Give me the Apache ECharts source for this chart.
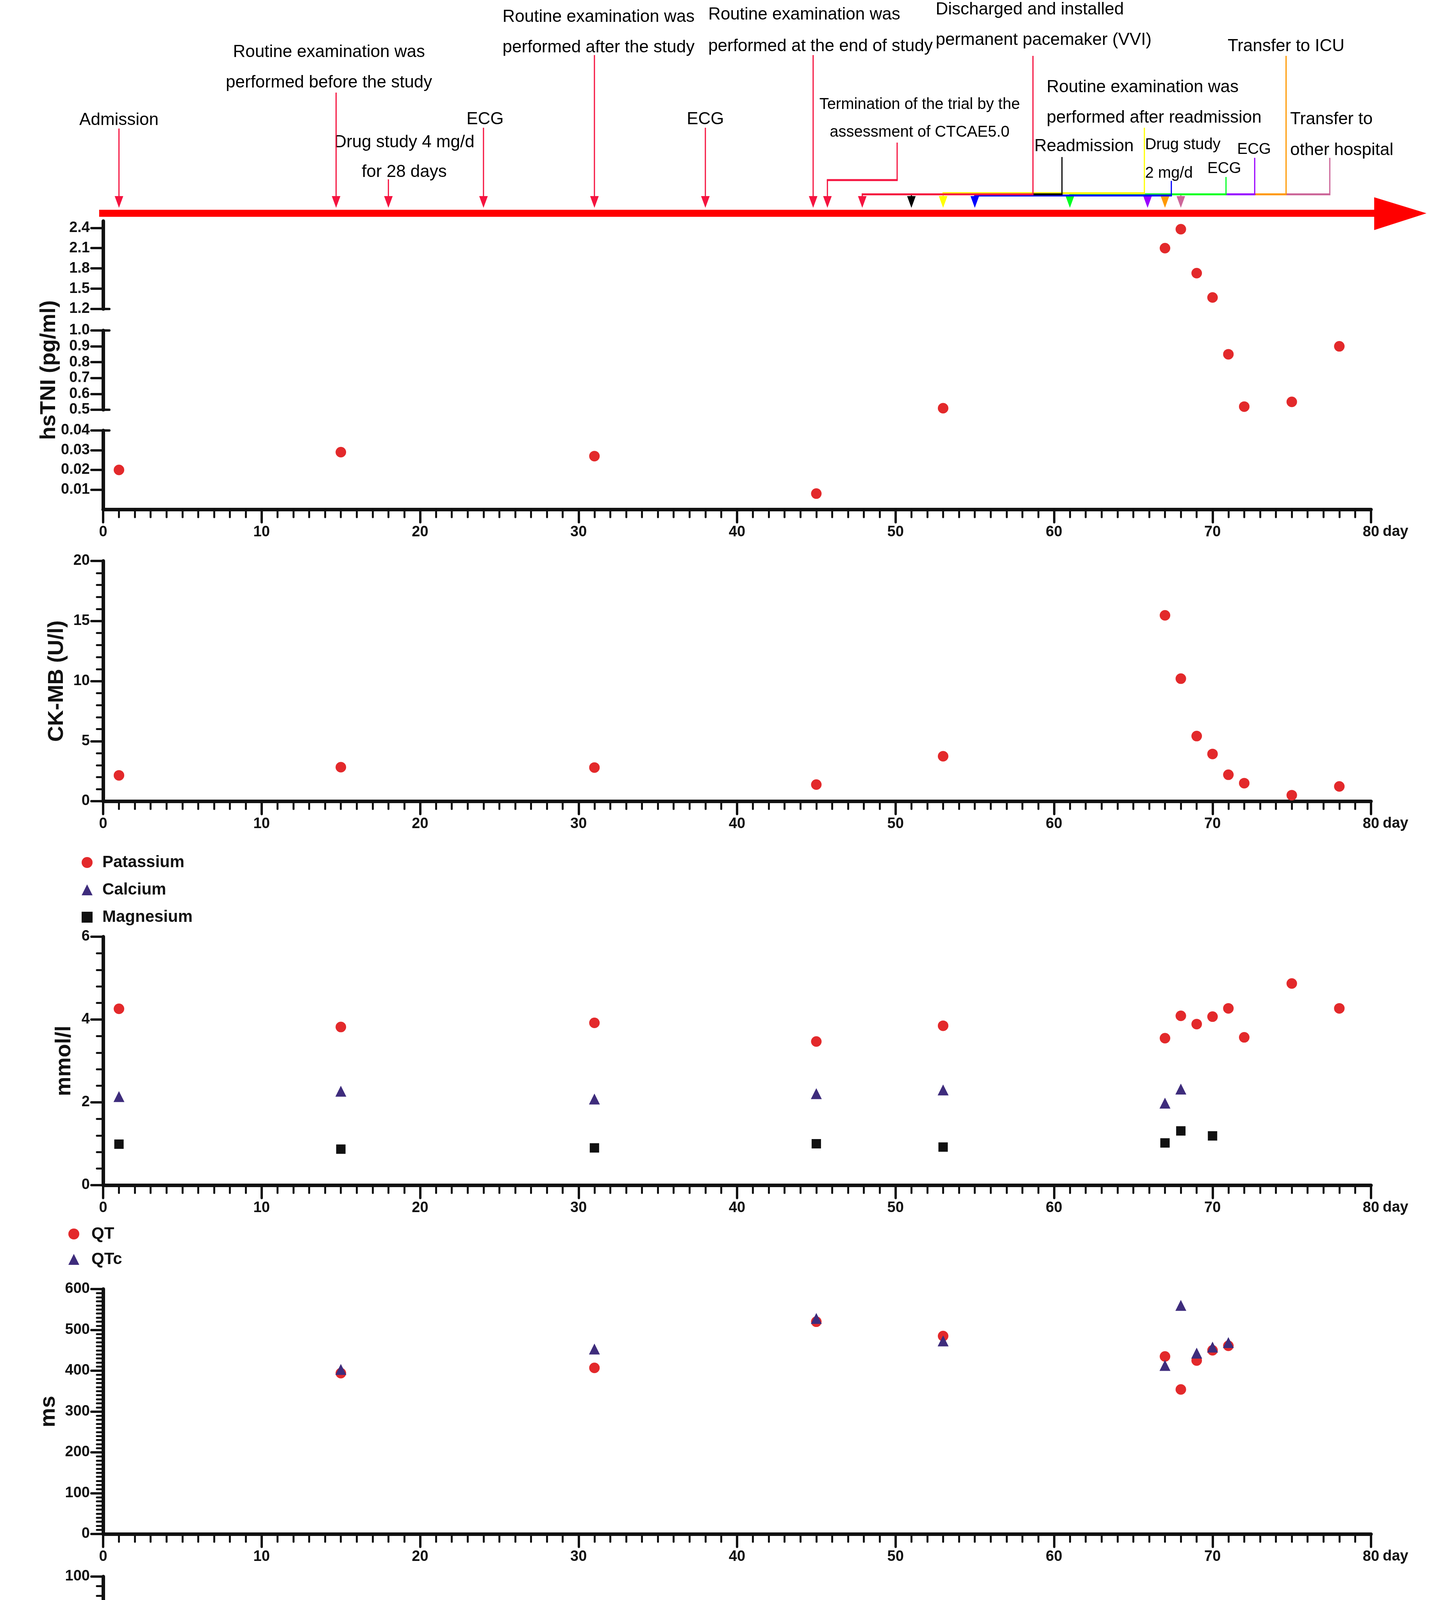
<!DOCTYPE html>
<html>
<head>
<meta charset="utf-8">
<script src="https://cdn.jsdelivr.net/npm/echarts@6/dist/echarts.min.js"></script>
<style>
  html, body { margin: 0; padding: 0; background: #fff; }
  #chart { width: 3661px; height: 4730px; }
</style>
</head>
<body>
<div id="chart"></div>
<script>
// ---- values ----
const tniDays = [1, 15, 31, 45, 53, 67, 68, 69, 70, 71, 72, 75, 78];
const tniValues = [0.02, 0.029, 0.027, 0.008, 0.51, 2.1, 2.38, 1.73, 1.37, 0.85, 0.52, 0.55, 0.9];
const tniSegments = [[1.2, 2.5], [0.5, 1.0], [0, 0.04]];
const tniTicks = [[1.2, 1.5, 1.8, 2.1, 2.4], [0.5, 0.6, 0.7, 0.8, 0.9, 1.0], [0.01, 0.02, 0.03, 0.04]];
const tniBreakCaps = [[1.2], [0.5, 1.0], [0.04]];

const ckmbDays = [1, 15, 31, 45, 53, 67, 68, 69, 70, 71, 72, 75, 78];
const ckmbValues = [2.15, 2.83, 2.8, 1.38, 3.74, 15.47, 10.2, 5.42, 3.93, 2.2, 1.5, 0.5, 1.23];

const potassiumDays = [1, 15, 31, 45, 53, 67, 68, 69, 70, 71, 72, 75, 78];
const potassiumValues = [4.26, 3.82, 3.92, 3.47, 3.85, 3.55, 4.09, 3.89, 4.07, 4.27, 3.57, 4.87, 4.27];
const calciumDays = [1, 15, 31, 45, 53, 67, 68];
const calciumValues = [2.14, 2.27, 2.08, 2.21, 2.3, 1.98, 2.32];
const magnesiumDays = [1, 15, 31, 45, 53, 67, 68, 70];
const magnesiumValues = [0.99, 0.87, 0.9, 1.0, 0.92, 1.02, 1.31, 1.19];

const qtDays = [15, 31, 45, 53, 67, 68, 69, 70, 71];
const qtValues = [394, 407, 520, 485, 435, 354, 425, 450, 461];
const qtcValues = [403, 453, 528, 473, 413, 560, 443, 458, 469];

const lvefDays = [1, 53, 68, 70];
const lvefValues = [65, 61, 40, 50];

// timeline events: label text, day the arrow points at, colour
const eventTexts = [
  ['Admission'],
  ['Routine examination was', 'performed before the study'],
  ['Drug study 4 mg/d', 'for 28 days'],
  ['ECG'],
  ['Routine examination was', 'performed after the study'],
  ['ECG'],
  ['Routine examination was', 'performed at the end of study'],
  ['Termination of the trial by the', 'assessment of CTCAE5.0'],
  ['Discharged and installed', 'permanent pacemaker (VVI)'],
  ['Readmission'],
  ['Routine examination was', 'performed after readmission'],
  ['Drug study', '2 mg/d'],
  ['ECG'],
  ['ECG'],
  ['Transfer to ICU'],
  ['Transfer to', 'other hospital']
];
const eventDays = [1, 14.7, 18, 24, 31, 38, 44.8, 45.7, 47.9, 51, 53, 55, 61, 65.9, 67, 68];
const CRIMSON = '#f5133f';
const eventColors = [CRIMSON, CRIMSON, CRIMSON, CRIMSON, CRIMSON, CRIMSON, CRIMSON, CRIMSON, CRIMSON,
  '#000000', '#ffff00', '#0000ff', '#00ff22', '#9900ff', '#ff9900', '#cc6699'];

// ---- layout of the timeline labels (x in days, y in px from the top) ----
const eventLayout = [
  { x: 1.0, align: 'center', y: 308, gap: 78, size: 44, top: 329 },
  { x: 14.25, align: 'center', y: 134, gap: 78, size: 44, top: 237 },
  { x: 19.0, align: 'center', y: 365, gap: 76, size: 44, top: 459 },
  { x: 24.1, align: 'center', y: 306, gap: 78, size: 44, top: 327 },
  { x: 31.26, align: 'center', y: 44, gap: 78, size: 44, top: 141 },
  { x: 38.0, align: 'center', y: 306, gap: 78, size: 44, top: 327 },
  { x: 38.18, align: 'left', y: 38, gap: 81, size: 44, top: 141 },
  { x: 51.52, align: 'center', y: 268, gap: 71, size: 40, top: 365, stem: 50.1, route: 461 },
  { x: 52.53, align: 'left', y: 25, gap: 78, size: 44, top: 143, stem: 58.67, route: 497.5 },
  { x: 61.89, align: 'center', y: 375, gap: 78, size: 44, top: 402, stem: 60.5, route: 497.5 },
  { x: 59.53, align: 'left', y: 224, gap: 78, size: 44, top: 327, stem: 65.7, route: 494.5 },
  { x: 65.74, align: 'left', y: 371, gap: 73, size: 40, top: 463, stem: 67.4, route: 500.5 },
  { x: 70.74, align: 'center', y: 432, gap: 73, size: 40, top: 453, stem: 70.85, route: 497.5 },
  { x: 72.62, align: 'center', y: 383, gap: 73, size: 40, top: 404, stem: 72.66, route: 497.5 },
  { x: 74.64, align: 'center', y: 119, gap: 78, size: 44, top: 143, stem: 74.64, route: 497.5 },
  { x: 74.9, align: 'left', y: 306, gap: 79, size: 44, top: 404, stem: 77.4, route: 497.5 }
];
const bar = { startDay: -0.25, headDay: 80.2, tipDay: 83.5, top: 537, bottom: 555, headTop: 505, headBottom: 589 };
const TIP_Y = 532, HEAD_H = 30, HEAD_W = 22;

const FONT = 'Liberation Sans, Arial, sans-serif';
const INK = '#111111';
const RED = '#e3292b';
const PURPLE = '#3e2c7c';

const gridBoxes = [
  [0, 560],      // timeline
  [566, 225],    // hsTNI 1.2-2.5
  [846, 203],    // hsTNI 0.5-1.0
  [1102, 202],   // hsTNI 0-0.04
  [1436, 615],   // CK-MB
  [2398, 636],   // electrolytes
  [3300, 627],   // QT
  [4036, 616]    // LVEF
];

function dayAxis(gridIndex, visible) {
  return {
    type: 'value', gridIndex, min: 0, max: 80, interval: 10, show: visible,
    name: 'day', nameLocation: 'end', nameGap: 30,
    nameTextStyle: { fontFamily: FONT, fontSize: 38, fontWeight: 'bold', color: INK,
      verticalAlign: 'top', lineHeight: 116 },
    axisLine: { onZero: false, lineStyle: { color: INK, width: 9 } },
    axisTick: { length: 33, lineStyle: { color: INK, width: 6, cap: 'round' } },
    minorTick: { show: true, splitNumber: 10, length: 20, lineStyle: { color: INK, width: 5, cap: 'round' } },
    axisLabel: { margin: 40, fontFamily: FONT, fontSize: 38, fontWeight: 'bold', color: INK },
    splitLine: { show: false }, minorSplitLine: { show: false }
  };
}

function valueAxis(gridIndex, opts) {
  const ax = {
    type: 'value', gridIndex, min: opts.min, max: opts.max, position: 'left',
    axisLine: { show: true, onZero: false, lineStyle: { color: INK, width: 9 } },
    axisTick: { show: true, length: 30, lineStyle: { color: INK, width: 6, cap: 'round' } },
    axisLabel: { margin: 34, fontFamily: FONT, fontSize: 38, fontWeight: 'bold', color: INK },
    splitLine: { show: false }, minorSplitLine: { show: false }
  };
  if (opts.interval) ax.interval = opts.interval;
  if (opts.minor) ax.minorTick = { show: true, splitNumber: opts.minor, length: 16, lineStyle: { color: INK, width: 5, cap: 'round' } };
  if (opts.ticks) {
    ax.axisTick.customValues = opts.ticks;
    ax.axisLabel.customValues = opts.ticks;
    ax.axisLabel.formatter = v => v.toFixed(opts.digits);
  }
  if (opts.name) {
    ax.name = opts.name;
    ax.nameLocation = 'middle';
    ax.nameGap = opts.nameGap;
    ax.nameTextStyle = { fontFamily: FONT, fontSize: 56, fontWeight: 'bold', color: INK, lineHeight: opts.lineHeight || 60 };
  }
  return ax;
}

function capAxis(gridIndex, seg, caps) {
  return {
    type: 'value', gridIndex, min: seg[0], max: seg[1], position: 'left',
    axisLine: { show: false }, axisLabel: { show: false }, splitLine: { show: false },
    axisTick: { show: true, inside: true, length: 16, customValues: caps, lineStyle: { color: INK, width: 6, cap: 'round' } }
  };
}

const pair = (xs, ys) => xs.map((d, i) => [d, ys[i]]);

function renderTimeline(params, api) {
  const at = (d, y) => api.coord([d, y]);
  const kids = [];
  const x0 = at(bar.startDay, 0)[0], xb = at(bar.headDay, 0)[0], xt = at(bar.tipDay, 0)[0];
  const yy = v => at(0, v)[1];
  kids.push({
    type: 'polygon',
    shape: { points: [[x0, yy(bar.top)], [xb, yy(bar.top)], [xb, yy(bar.headTop)], [xt, yy((bar.top + bar.bottom) / 2)],
      [xb, yy(bar.headBottom)], [xb, yy(bar.bottom)], [x0, yy(bar.bottom)]] },
    style: { fill: '#ff0000' }
  });
  const line = (p1, p2, color, w) => kids.push({
    type: 'line', shape: { x1: p1[0], y1: p1[1], x2: p2[0], y2: p2[1] }, style: { stroke: color, lineWidth: w }
  });
  for (let i = eventDays.length - 1; i >= 0; i--) {
    const L = eventLayout[i], c = eventColors[i], d = eventDays[i];
    const headTop = TIP_Y - HEAD_H + 2;
    if (L.route == null) {
      line(at(d, L.top), at(d, headTop), c, 3);
    } else {
      line(at(L.stem, L.top), at(L.stem, L.route), c, 3);
      const a = at(L.stem, L.route), b = at(d, L.route);
      line([a[0] + 1.5, a[1]], [b[0] - 1.5, b[1]], c, 5);
      line(at(d, L.route), at(d, headTop), c, 3);
    }
    const tip = at(d, TIP_Y);
    kids.push({
      type: 'polygon',
      shape: { points: [[tip[0] - HEAD_W / 2, tip[1] - HEAD_H], [tip[0] + HEAD_W / 2, tip[1] - HEAD_H], [tip[0], tip[1]]] },
      style: { fill: c }
    });
    eventTexts[i].forEach((t, k) => {
      const p = at(L.x, L.y + k * L.gap);
      kids.push({
        type: 'text',
        style: { text: t, x: p[0], y: p[1], fill: '#000', fontFamily: FONT, fontSize: L.size,
          align: L.align, verticalAlign: 'middle' }
      });
    });
  }
  return { type: 'group', children: kids };
}

const chart = echarts.init(document.getElementById('chart'), null, { renderer: 'canvas' });

const xAxes = gridBoxes.map((g, i) => dayAxis(i, i >= 3));
const yAxes = [
  { type: 'value', gridIndex: 0, min: 0, max: 560, inverse: true, show: false },
  valueAxis(1, { min: tniSegments[0][0], max: tniSegments[0][1], ticks: tniTicks[0], digits: 1 }),
  valueAxis(2, { min: tniSegments[1][0], max: tniSegments[1][1], ticks: tniTicks[1], digits: 1,
    name: 'hsTNI (pg/ml)', nameGap: 108 }),
  valueAxis(3, { min: tniSegments[2][0], max: tniSegments[2][1], ticks: tniTicks[2], digits: 2 }),
  valueAxis(4, { min: 0, max: 20, interval: 5, minor: 5, name: 'CK-MB (U/l)', nameGap: 88 }),
  valueAxis(5, { min: 0, max: 6, interval: 2, minor: 5, name: 'mmol/l', nameGap: 69 }),
  valueAxis(6, { min: 0, max: 600, interval: 100, minor: 10, name: 'ms', nameGap: 109 }),
  valueAxis(7, { min: 0, max: 100, interval: 20, minor: 5, name: 'LVEF\n(%)', nameGap: 100, lineHeight: 78 }),
  capAxis(1, tniSegments[0], tniBreakCaps[0]),
  capAxis(2, tniSegments[1], tniBreakCaps[1]),
  capAxis(3, tniSegments[2], tniBreakCaps[2])
];

const dot = (name, gridIndex, data, symbol, size, color) => ({
  type: 'scatter', name, xAxisIndex: gridIndex, yAxisIndex: gridIndex, data,
  symbol, symbolSize: size, itemStyle: { color, opacity: 1 }, emphasis: { disabled: true }
});

const tniPoints = pair(tniDays, tniValues);
const series = [
  { type: 'custom', name: 'timeline', xAxisIndex: 0, yAxisIndex: 0, data: [[0, 0]], clip: false,
    renderItem: renderTimeline, silent: true, z: 1 }
];
tniSegments.forEach((seg, k) => {
  series.push(dot('hsTNI ' + k, k + 1, tniPoints.filter(p => p[1] >= seg[0] && p[1] <= seg[1]), 'circle', 27, RED));
});
series.push(dot('CK-MB', 4, pair(ckmbDays, ckmbValues), 'circle', 27, RED));
series.push(dot('Patassium', 5, pair(potassiumDays, potassiumValues), 'circle', 27, RED));
series.push(dot('Calcium', 5, pair(calciumDays, calciumValues), 'triangle', 28, PURPLE));
series.push(dot('Magnesium', 5, pair(magnesiumDays, magnesiumValues), 'rect', 24, INK));
series.push(dot('QT', 6, pair(qtDays, qtValues), 'circle', 27, RED));
series.push(dot('QTc', 6, pair(qtDays, qtcValues), 'triangle', 28, PURPLE));
series.push(dot('LVEF', 7, pair(lvefDays, lvefValues), 'circle', 27, RED));

const legendBase = {
  orient: 'vertical', itemWidth: 28, itemHeight: 28, selectedMode: false,
  textStyle: { fontFamily: FONT, fontSize: 42, fontWeight: 'bold', color: INK }
};

chart.setOption({
  animation: false,
  backgroundColor: '#ffffff',
  grid: gridBoxes.map(g => ({ left: 264, width: 3246, top: g[0], height: g[1], outerBoundsMode: 'none' })),
  xAxis: xAxes,
  yAxis: yAxes,
  legend: [
    Object.assign({}, legendBase, { data: ['Patassium', 'Calcium', 'Magnesium'], left: 204, top: 2182, itemGap: 28,
      textStyle: Object.assign({}, legendBase.textStyle, { padding: [0, 0, 0, 20] }) }),
    Object.assign({}, legendBase, { data: ['QT', 'QTc'], left: 170, top: 3133, itemGap: 23,
      textStyle: Object.assign({}, legendBase.textStyle, { padding: [0, 0, 0, 26] }) })
  ],
  series
});
</script>
</body>
</html>
